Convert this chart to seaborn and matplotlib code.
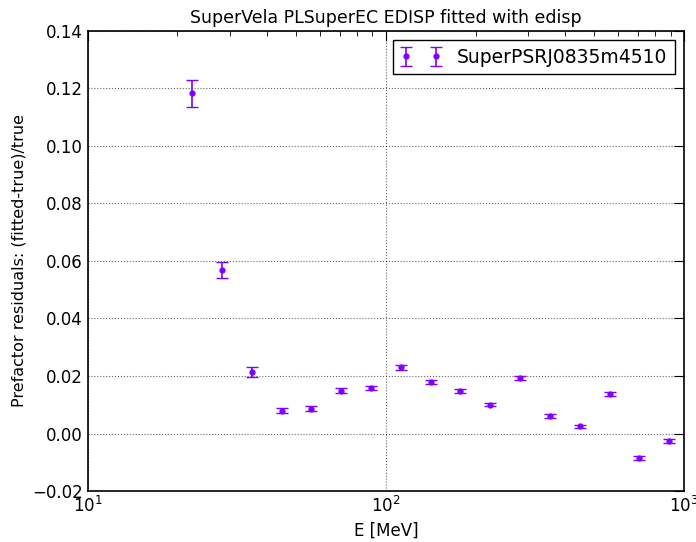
import numpy as np
import pandas as pd
import matplotlib
matplotlib.use("Agg")
import matplotlib.pyplot as plt
import seaborn as sns

# energies (bin centres, MeV) and fitted prefactor residuals
energy = [22.4, 28.2, 35.5, 44.7, 56.2, 70.8, 89.1, 112.2, 141.3, 177.8,
          223.9, 281.8, 354.8, 446.7, 562.3, 707.9, 891.3]
residual = [0.1183, 0.0569, 0.0213, 0.0080, 0.0087, 0.0149, 0.0157, 0.0230, 0.0180,
            0.0148, 0.0100, 0.0192, 0.0060, 0.0025, 0.0137, -0.0084, -0.0027]
residual_err = [0.0046, 0.0029, 0.0017, 0.0010, 0.0010, 0.0008, 0.0007, 0.0008, 0.0007,
                0.0007, 0.0006, 0.0007, 0.0007, 0.0006, 0.0007, 0.0007, 0.0007]
source = "SuperPSRJ0835m4510"

df = pd.DataFrame({"E": energy, "res": residual, "err": residual_err})

sns.set_style("white")
plt.rcParams['font.family'] = ['DejaVu Sans']
plt.rcParams['xtick.direction'] = 'in'
plt.rcParams['ytick.direction'] = 'in'
for k in ['text.color', 'axes.labelcolor', 'xtick.color', 'ytick.color']:
    plt.rcParams[k] = 'black'

color = "#8000ff"

fig = plt.figure(figsize=(6.96, 5.42), dpi=100)
ax = fig.add_axes([0.126, 0.094, 0.857, 0.849])

ax.errorbar(df["E"], df["res"], yerr=df["err"], fmt='o', color=color, ms=3.5,
            elinewidth=1.2, capsize=4, capthick=1, label=source, zorder=3)

ax.set_xscale("log")
ax.set_xlim(10, 1000)
ax.set_ylim(-0.02, 0.14)
ax.set_yticks(np.arange(-0.02, 0.141, 0.02))
ax.yaxis.set_major_formatter(matplotlib.ticker.FuncFormatter(
    lambda v, _: ("\u2212" if v < -1e-9 else "") + f"{abs(v):.2f}"))

ax.grid(True, which="major", linestyle=":", color="black", linewidth=0.8, alpha=0.6)
ax.tick_params(which="both", top=True, right=True, labelsize=12)
ax.tick_params(which="major", length=7, width=0.8)
ax.tick_params(which="minor", length=3.5, width=0.6)
for s in ax.spines.values():
    s.set_color("black")
    s.set_linewidth(1.2)

ax.set_title("SuperVela PLSuperEC EDISP fitted with edisp", fontsize=12.5)
ax.set_xlabel("E [MeV]", fontsize=12)
ax.set_ylabel("Prefactor residuals: (fitted-true)/true", fontsize=11.5)

leg = ax.legend(loc="upper right", numpoints=2, fontsize=13.5, fancybox=False,
                edgecolor="black", framealpha=1, borderpad=0.4, handlelength=2.2)
leg.get_frame().set_linewidth(1.0)

fig.savefig("out.png", dpi=100)
